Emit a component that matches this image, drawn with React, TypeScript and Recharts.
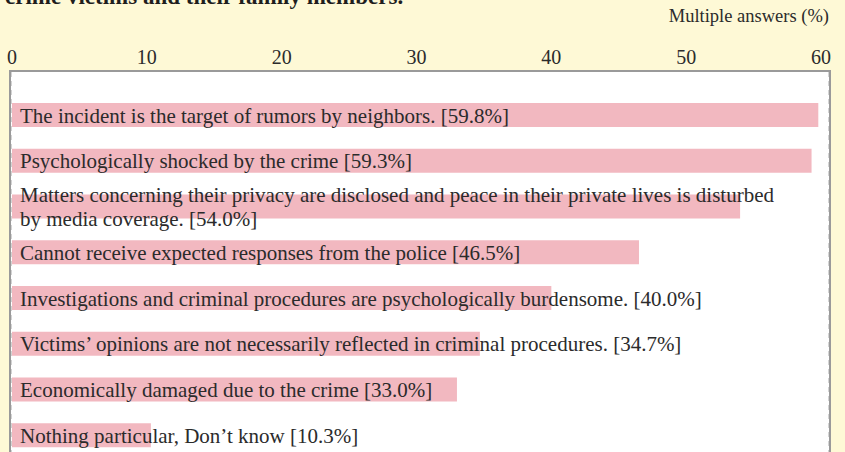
import React from "react";
import { BarChart, Bar, XAxis, YAxis, CartesianGrid, LabelList } from "recharts";

const categories = [
  "The incident is the target of rumors by neighbors.",
  "Psychologically shocked by the crime",
  "Matters concerning their privacy are disclosed and peace in their private lives is disturbed\nby media coverage.",
  "Cannot receive expected responses from the police",
  "Investigations and criminal procedures are psychologically burdensome.",
  "Victims’ opinions are not necessarily reflected in criminal procedures.",
  "Economically damaged due to the crime",
  "Nothing particular, Don’t know",
];
const values = [59.8, 59.3, 54.0, 46.5, 40.0, 34.7, 33.0, 10.3];
const xTicks = [0, 10, 20, 30, 40, 50, 60];
const gridTicks = [10, 20, 30, 40, 50];
const titleText = "crime victims and their family members.";
const unitText = "Multiple answers (%)";

const data = categories.map((name, i) => ({
  name,
  value: values[i],
  label: `${name} [${values[i].toFixed(1)}%]`,
}));

const FONT = "'Liberation Serif', 'Times New Roman', serif";
const TEXT = "#2b2b2b";

const renderTick = (props: any) => {
  const { x, y, payload } = props;
  return (
    <text x={x} y={y} textAnchor="middle" fontFamily={FONT} fontSize={20} fill={TEXT}>
      {payload.value}
    </text>
  );
};

const renderLabel = (props: any) => {
  const vb = props.viewBox || props;
  const x = Number(vb.x ?? props.x);
  const y = Number(vb.y ?? props.y);
  const h = Number(vb.height ?? props.height);
  const lines = String(props.value).split("\n");
  const cy = y + h / 2;
  const lh = 24;
  const first = cy + 7.5 - ((lines.length - 1) * lh) / 2;
  return (
    <text fontFamily={FONT} fontSize={21} fill={TEXT}>
      {lines.map((ln, i) => (
        <tspan key={i} x={x + 8} y={first + i * lh}>
          {ln}
        </tspan>
      ))}
    </text>
  );
};

export default function App() {
  return (
    <div
      style={{
        position: "absolute",
        left: 0,
        top: 0,
        width: 845,
        height: 452,
        overflow: "hidden",
        background: "#fef9d6",
      }}
    >
      <div
        style={{
          position: "absolute",
          left: 5,
          top: -16,
          fontFamily: FONT,
          fontWeight: "bold",
          fontSize: 23,
          color: "#1e1e1e",
          whiteSpace: "nowrap",
          lineHeight: "normal",
        }}
      >
        {titleText}
      </div>
      <div
        style={{
          position: "absolute",
          right: 16,
          top: 6,
          fontFamily: FONT,
          fontSize: 18.5,
          color: TEXT,
          whiteSpace: "nowrap",
          lineHeight: "normal",
        }}
      >
        {unitText}
      </div>
      <div
        style={{
          position: "absolute",
          left: 11,
          top: 72,
          width: 818,
          height: 500,
          background: "#ffffff",
        }}
      />
      <div style={{ position: "absolute", left: 0, top: 0 }}>
        <BarChart
          width={845}
          height={480}
          layout="vertical"
          data={data}
          margin={{ top: 42, right: 16, bottom: 0, left: 11 }}
        >
          <XAxis
            type="number"
            domain={[0, 60]}
            ticks={xTicks}
            interval={0}
            orientation="top"
            height={30}
            padding={{ left: 1, right: 8 }}
            axisLine={false}
            tickLine={false}
            tick={renderTick}
            allowDataOverflow
          />
          <XAxis
            xAxisId="grid"
            type="number"
            domain={[0, 60]}
            ticks={gridTicks}
            interval={0}
            orientation="top"
            padding={{ left: 1, right: 8 }}
            hide
          />
          <YAxis
            type="category"
            dataKey="name"
            hide
            padding={{ top: 20, bottom: 22 }}
          />
          <CartesianGrid
            xAxisId="grid"
            horizontal={false}
            vertical
            stroke="#a8a8a8"
            strokeDasharray="5 4"
          />
          <Bar dataKey="value" fill="#f2b8c0" barSize={24} isAnimationActive={false}>
            <LabelList dataKey="label" content={renderLabel} />
          </Bar>
        </BarChart>
      </div>
      <div
        style={{
          position: "absolute",
          left: 9,
          top: 70,
          width: 818,
          height: 500,
          border: "2px solid #9a9a9a",
          pointerEvents: "none",
        }}
      />
    </div>
  );
}
